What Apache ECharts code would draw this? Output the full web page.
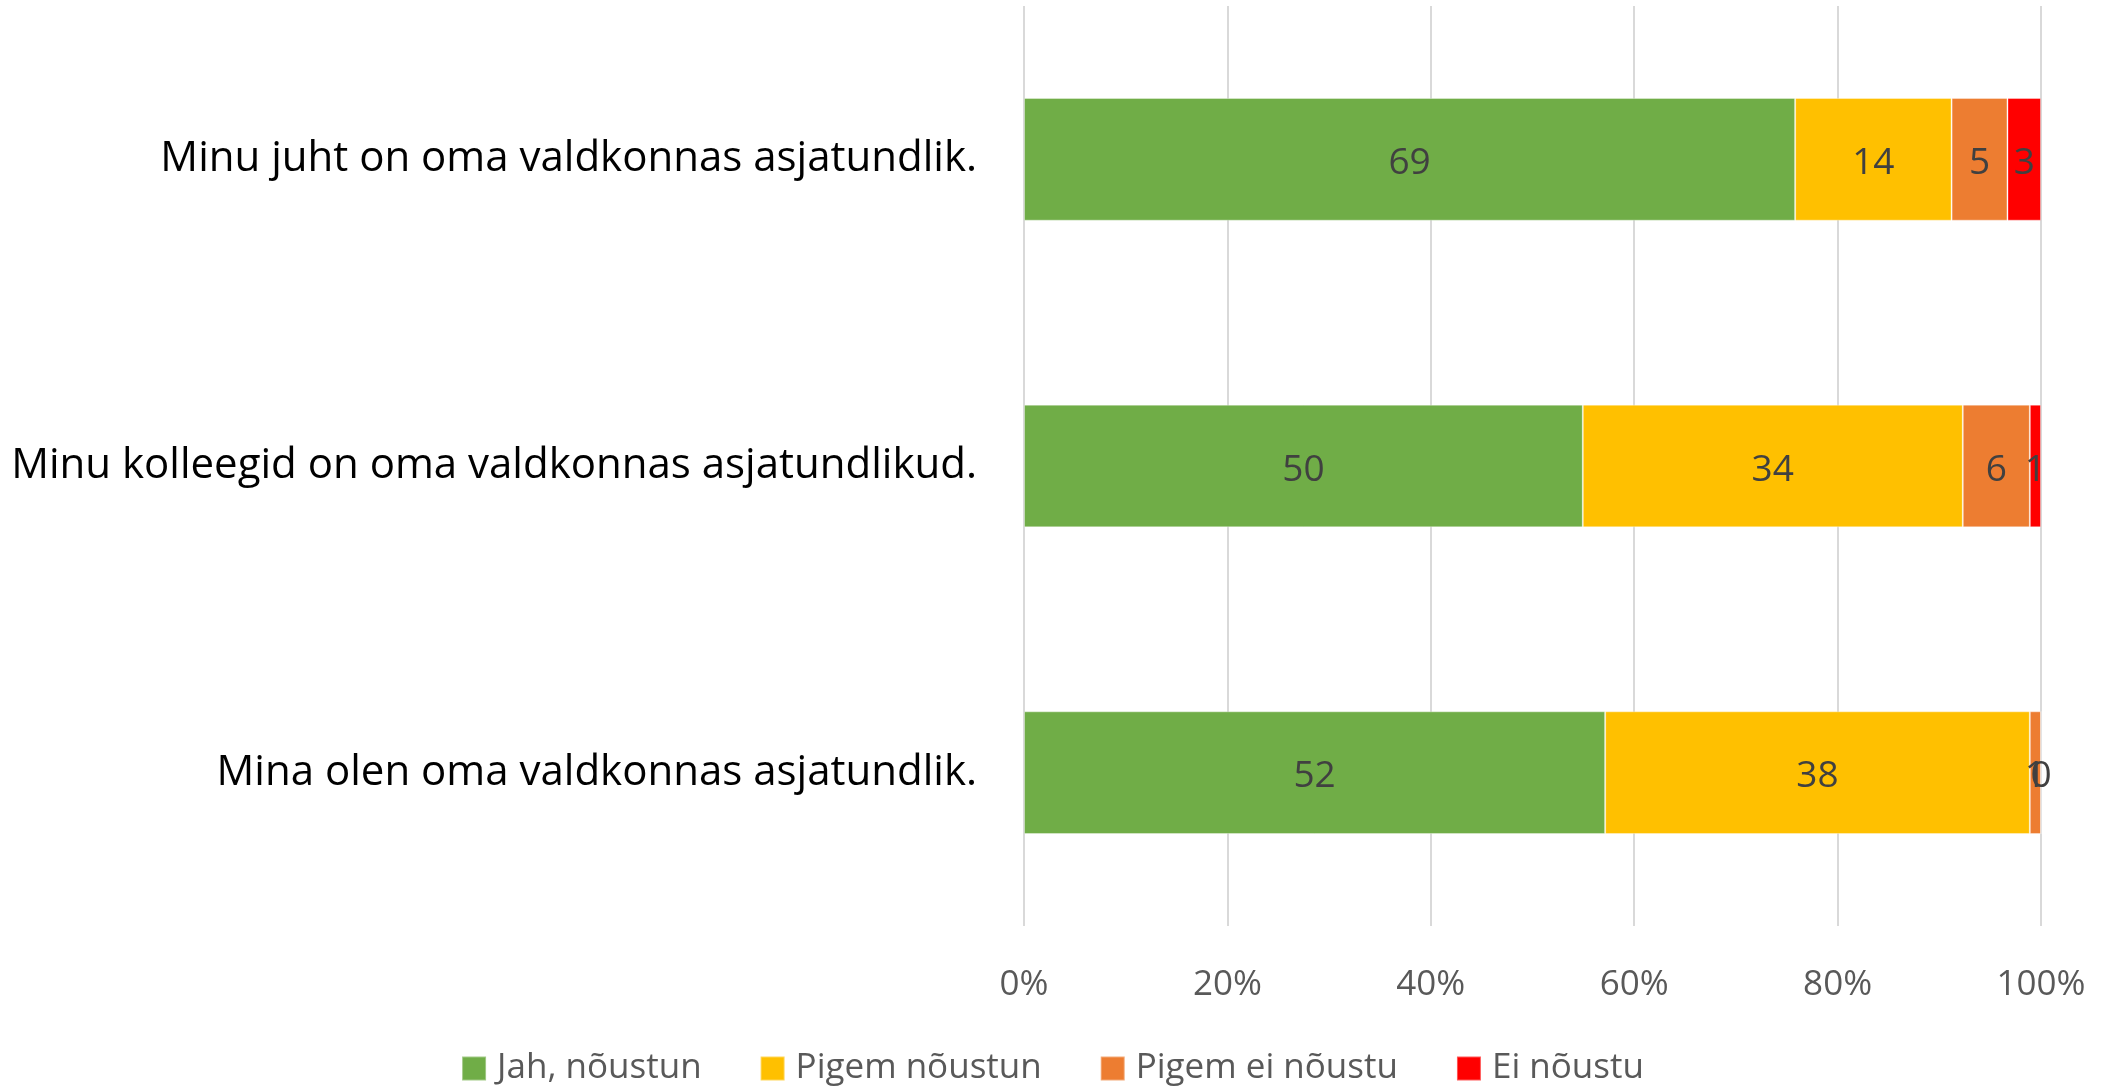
<!DOCTYPE html>
<html>
<head>
<meta charset="utf-8">
<script src="https://cdn.jsdelivr.net/npm/echarts@6/dist/echarts.min.js"></script>
<style>html,body{margin:0;padding:0;background:#fff;}#c{width:2105px;height:1087px;}</style>
</head>
<body>
<div id="c"></div>
<script>
const categories = ['Minu juht on oma valdkonnas asjatundlik.', 'Minu kolleegid on oma valdkonnas asjatundlikud.', 'Mina olen oma valdkonnas asjatundlik.'];
const seriesNames = ['Jah, nõustun', 'Pigem nõustun', 'Pigem ei nõustu', 'Ei nõustu'];
const jah = [69, 50, 52];
const pigemJah = [14, 34, 38];
const pigemEi = [5, 6, 1];
const ei = [3, 1, 0];
const tickLabels = ['0%', '20%', '40%', '60%', '80%', '100%'];
const colors = ['#70ad47', '#ffc000', '#ed7d31', '#ff0000'];

const all = [jah, pigemJah, pigemEi, ei];
const totals = categories.map((_, i) => all.reduce((s, a) => s + a[i], 0));
const font = '"Open Sans", Lato, sans-serif';

const chart = echarts.init(document.getElementById('c'));
chart.setOption({
  animation: false,
  grid: {left: 1024, right: 64, top: 6, bottom: 161, containLabel: false},
  legend: {
    top: 1046, left: 'center', itemWidth: 24, itemHeight: 24, itemGap: 58,
    icon: 'rect',
    textStyle: {fontFamily: font, fontSize: 35, color: '#595959', padding: [0, 0, 0, 6]},
    data: seriesNames
  },
  xAxis: {
    type: 'value', min: 0, max: 100, interval: 20,
    axisLabel: {formatter: v => tickLabels[v / 20], fontFamily: font, fontSize: 35, color: '#595959', margin: 42},
    splitLine: {lineStyle: {color: '#d9d9d9', width: 2}},
    axisLine: {show: false}, axisTick: {show: false}
  },
  yAxis: {
    type: 'category', data: categories, inverse: true,
    axisLine: {show: false}, axisTick: {show: false},
    axisLabel: {fontFamily: font, fontSize: 42, color: '#000', margin: 47}
  },
  series: all.map((arr, k) => ({
    name: seriesNames[k], type: 'bar', stack: 'total', barWidth: '40%',
    itemStyle: {color: colors[k], borderColor: 'rgba(255,255,255,0.35)', borderWidth: 1},
    label: {show: true, position: 'inside', offset: [0, 4], fontFamily: font, fontSize: 37, color: '#404040',
      formatter: p => String(arr[p.dataIndex])},
    data: arr.map((v, i) => v / totals[i] * 100)
  }))
});
</script>
</body>
</html>
